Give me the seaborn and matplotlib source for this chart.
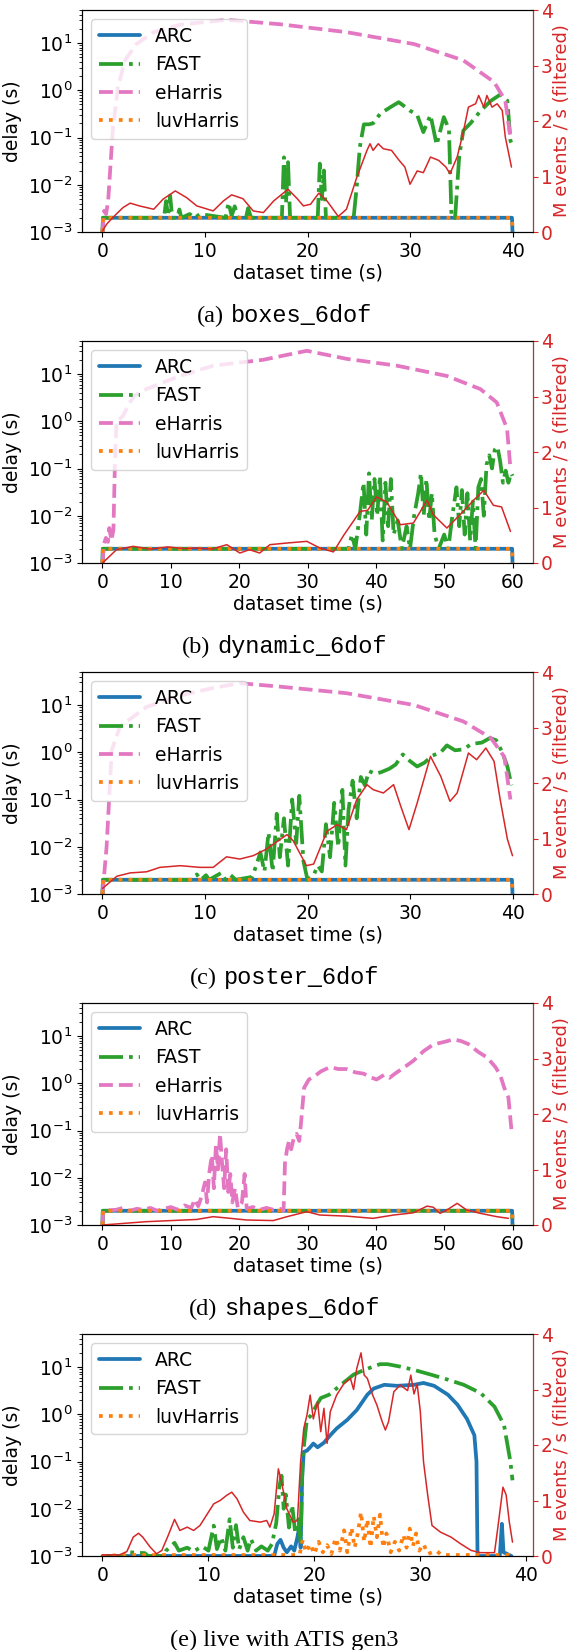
import matplotlib
matplotlib.use('Agg')
import matplotlib.pyplot as plt
import seaborn as sns

# ---------------- dados ----------------
# (a) boxes_6dof
a_base_t = [0, 0.05, 39.95, 40]
a_base = [1e-3, 2e-3, 2e-3, 1e-3]
a_fast_t = [0, 0.05, 6.0, 6.2, 6.4, 6.6, 6.8, 7.3, 7.5, 7.7, 8.5, 9.0, 9.5, 12.0, 12.3, 12.6, 12.9, 13.2,
            14.0, 14.2, 14.5, 17.5, 17.7, 17.9, 18.1, 18.3, 18.5, 21.0, 21.2, 21.4, 21.6, 21.8, 24.5, 24.8,
            25.1, 25.5, 26.0, 26.4, 27.1, 28.1, 28.9, 29.5, 30.0, 30.7, 31.3, 32.0, 32.6, 33.3, 33.8, 34.05,
            34.4, 34.8, 35.2, 35.9, 36.9, 37.9, 38.8, 39.5, 39.8, 40.0]
a_fast = [1e-3, 2e-3, 2e-3, 4.5e-3, 2.2e-3, 5.9e-3, 2e-3, 2e-3, 3e-3, 2e-3, 2.4e-3, 2e-3, 2.4e-3, 2e-3, 4.2e-3,
          2.2e-3, 3.5e-3, 2e-3, 2e-3, 3.2e-3, 2e-3, 2e-3, 0.038, 0.004, 0.03, 2e-3, 2e-3, 2e-3, 0.028, 0.005,
          0.02, 2e-3, 2e-3, 9e-3, 0.062, 0.19, 0.19, 0.2, 0.32, 0.44, 0.56, 0.45, 0.37, 0.3, 0.13, 0.3, 0.07,
          0.27, 0.15, 2e-3, 2e-3, 0.04, 0.14, 0.2, 0.37, 0.6, 0.81, 0.6, 0.085, 0.07]
a_eh_t = [0, 0.15, 0.35, 0.55, 1.0, 1.5, 2.2, 3.3, 5.0, 7.6, 12.1, 17.3, 23.8, 30.4, 35.2, 38.2, 39.3, 39.8]
a_eh = [1e-3, 2.8e-3, 2.4e-3, 4.5e-3, 0.14, 1.15, 4.3, 9.5, 17, 24.5, 31, 25, 17, 9.5, 4.3, 1.5, 0.6, 0.1]
a_rate_t = [0, 0.4, 1.0, 2.0, 2.7, 3.6, 5.0, 5.9, 7.1, 8.2, 9.2, 10.8, 11.8, 12.6, 13.7, 14.7, 15.7, 16.7,
            18.1, 19.0, 19.6, 20.3, 21.1, 21.9, 23.0, 23.8, 24.8, 25.8, 26.1, 26.4, 26.9, 27.4, 28.2, 28.9,
            29.5, 30.0, 30.7, 31.3, 32.0, 32.8, 33.5, 33.9, 34.6, 35.2, 35.7, 36.4, 36.7, 37.2, 37.5, 38.0,
            38.5, 39.0, 39.3, 39.9]
a_rate = [0.02, 0.14, 0.26, 0.44, 0.52, 0.47, 0.41, 0.59, 0.74, 0.62, 0.47, 0.38, 0.56, 0.67, 0.6, 0.38, 0.35,
          0.56, 0.77, 0.6, 0.47, 0.5, 0.70, 0.56, 0.28, 0.41, 0.98, 1.47, 1.59, 1.47, 1.59, 1.5, 1.47, 1.3,
          1.17, 0.86, 1.1, 1.07, 1.35, 1.29, 1.17, 1.05, 1.35, 1.80, 2.25, 2.31, 2.46, 2.25, 2.46, 2.25, 2.31,
          2.19, 1.71, 1.17]

# (b) dynamic_6dof
b_base_t = [0, 0.05, 59.95, 60]
b_base = [1e-3, 2e-3, 2e-3, 1e-3]
b_fast_t = [0, 0.05, 36.0, 36.5, 37.0, 37.7, 38.2, 38.6, 39.0, 39.4, 39.8, 40.2, 40.6, 41.0, 41.4, 41.8, 42.2,
            42.6, 43.2, 43.8, 44.5, 45.0, 45.6, 46.2, 46.6, 47.0, 47.4, 47.8, 48.2, 48.6, 49.2, 50.0, 50.6,
            51.2, 51.8, 52.2, 52.6, 53.0, 53.4, 53.8, 54.2, 54.6, 55.0, 55.4, 55.8, 56.2, 56.6, 57.0, 57.4,
            57.8, 58.2, 58.6, 59.0, 59.4, 59.8, 60.0]
b_fast = [1e-3, 2e-3, 2e-3, 4e-3, 2e-3, 0.012, 0.05, 0.004, 0.079, 0.008, 0.06, 0.01, 0.07, 0.003, 0.05, 0.006,
          0.06, 0.004, 0.008, 0.002, 0.006, 0.002, 0.01, 0.03, 0.08, 0.01, 0.06, 0.008, 0.03, 0.004, 0.002,
          0.004, 0.002, 0.01, 0.04, 0.006, 0.035, 0.004, 0.03, 0.003, 0.02, 0.002, 0.04, 0.06, 0.01, 0.12,
          0.19, 0.1, 0.25, 0.29, 0.14, 0.05, 0.09, 0.05, 0.08, 0.07]
b_eh_t = [0, 0.2, 0.5, 0.8, 1.0, 1.3, 1.6, 1.8, 2.05, 3.0, 4.0, 4.7, 6.4, 11.3, 16.2, 23.5, 29.9, 35.7, 43.1,
          50.4, 55.3, 57.7, 59.2, 59.7]
b_eh = [1e-3, 2.5e-3, 3.4e-3, 2.8e-3, 5.5e-3, 3e-3, 5e-3, 0.1, 0.95, 1.3, 2.5, 3.5, 4.8, 9.1, 15, 20, 31, 21,
        15, 9.1, 4.8, 2.5, 0.7, 0.1]
b_rate_t = [0, 2.05, 4.5, 7.0, 9.5, 12.0, 13.8, 16.0, 18.2, 20.1, 21.5, 23.0, 24.5, 27.0, 29.9, 31.8, 33.8,
            35.3, 37.7, 38.8, 40.1, 41.6, 43.6, 45.5, 47.5, 48.4, 50.4, 52.8, 54.3, 55.8, 57.2, 58.4, 59.7]
b_rate = [0.0, 0.24, 0.30, 0.25, 0.29, 0.26, 0.27, 0.25, 0.33, 0.18, 0.24, 0.18, 0.33, 0.36, 0.39, 0.27, 0.2,
          0.5, 0.93, 0.95, 1.19, 1.1, 0.69, 0.72, 1.13, 0.87, 0.63, 0.93, 1.13, 1.31, 1.04, 1.01, 0.57]

# (c) poster_6dof
c_base_t = [0, 0.05, 39.95, 40]
c_base = [1e-3, 2e-3, 2e-3, 1e-3]
c_fast_t = [0, 0.05, 8.8, 9.2, 9.6, 10.1, 10.4, 11.6, 12.0, 12.5, 13.0, 14.6, 15.0, 15.4, 15.8, 16.2, 16.6,
            17.0, 17.3, 17.7, 18.1, 18.5, 18.9, 19.2, 19.6, 20.0, 20.6, 21.0, 21.4, 21.8, 22.2, 22.6, 23.0,
            23.4, 23.7, 24.0, 24.4, 24.8, 25.2, 25.6, 26.0, 26.6, 27.2, 28.0, 28.6, 29.3, 30.0, 30.7, 31.4,
            32.2, 33.0, 33.6, 34.4, 35.2, 36.0, 37.0, 37.8, 38.4, 39.0, 39.5, 39.9]
c_fast = [1e-3, 2e-3, 2e-3, 2.6e-3, 2e-3, 2.5e-3, 2e-3, 2.8e-3, 2e-3, 2.5e-3, 2e-3, 2.3e-3, 4e-3, 7.6e-3, 3e-3,
          0.02, 0.003, 0.05, 0.006, 0.04, 0.004, 0.1, 0.012, 0.12, 0.005, 0.002, 0.0025, 0.004, 0.003, 0.03,
          0.006, 0.085, 0.01, 0.16, 0.004, 0.06, 0.25, 0.04, 0.3, 0.2, 0.4, 0.35, 0.38, 0.45, 0.55, 0.9, 0.65,
          0.5, 0.6, 0.85, 1.0, 1.4, 1.1, 1.15, 1.5, 1.6, 2.0, 1.8, 1.0, 0.5, 0.2]
c_eh_t = [0, 0.4, 0.9, 1.7, 4.3, 7.6, 10.8, 13.4, 17.3, 23.8, 30.4, 35.2, 37.9, 39.2, 39.8]
c_eh = [1e-3, 0.01, 1.1, 3.5, 9.1, 16, 23, 29, 24.5, 17.8, 10, 4.5, 2.0, 0.8, 0.1]
c_rate_t = [0, 1.4, 2.7, 4.3, 5.6, 7.6, 9.5, 10.8, 12.1, 13.4, 14.7, 16.0, 18.0, 18.6, 19.9, 20.6, 21.9, 22.9,
            23.8, 24.8, 25.8, 26.4, 27.4, 28.4, 29.1, 29.9, 30.7, 32.0, 33.0, 33.9, 34.6, 35.7, 36.5, 37.4,
            38.2, 38.8, 39.5, 40.0]
c_rate = [0.1, 0.32, 0.38, 0.40, 0.48, 0.51, 0.48, 0.48, 0.67, 0.63, 0.69, 0.81, 1.07, 0.96, 0.51, 0.54, 1.13,
          1.25, 1.16, 1.7, 1.97, 1.88, 1.82, 1.97, 1.58, 1.16, 1.64, 2.48, 2.12, 1.67, 1.82, 2.54, 2.42, 2.63,
          2.39, 1.7, 0.99, 0.69]

# (d) shapes_6dof
d_base_t = [0, 0.05, 59.95, 60]
d_base = [1e-3, 2e-3, 2e-3, 1e-3]
d_eh_t = [0, 0.1, 2, 3, 4, 5, 6, 7, 8, 9, 10, 11, 12, 13, 13.5, 14, 14.5, 15, 15.3, 15.6, 16, 16.3, 16.6,
          16.9, 17.2, 17.5, 17.8, 18.1, 18.4, 18.7, 19, 19.4, 19.8, 20.4, 20.8, 21.1, 22, 23, 24, 25, 26,
          26.5, 26.7, 27, 27.3, 27.6, 28, 28.4, 28.8, 29, 29.5, 30.2, 31, 32, 33.3, 34.5, 35.7, 37, 38.2,
          39.2, 40.1, 41.2, 42, 42.8, 44, 45.5, 47, 48.4, 50, 51.4, 52.5, 53.5, 55, 56.3, 57.5, 58.2, 58.8,
          59.4, 59.9]
d_eh = [1e-3, 2e-3, 2.1e-3, 2.3e-3, 2e-3, 2.2e-3, 2.1e-3, 2.3e-3, 2e-3, 2.2e-3, 2.4e-3, 2.1e-3, 2.6e-3, 2.3e-3,
        3.5e-3, 2.5e-3, 4e-3, 8e-3, 3e-3, 0.012, 0.03, 0.006, 0.05, 0.015, 0.085, 0.02, 0.006, 0.04, 0.005,
        0.012, 0.003, 0.006, 2.3e-3, 3e-3, 0.012, 2.2e-3, 2.4e-3, 2.1e-3, 2.3e-3, 2.1e-3, 2.2e-3, 2e-3, 0.02,
        0.04, 0.06, 0.04, 0.07, 0.085, 0.06, 0.12, 0.8, 1.2, 1.4, 1.8, 2.2, 2.0, 2.0, 1.7, 1.6, 1.35, 1.2,
        1.5, 1.3, 1.6, 2.1, 3.0, 4.8, 6.6, 7.5, 8.5, 7.8, 6.8, 4.6, 3.5, 2.2, 1.5, 0.8, 0.5, 0.085]
d_rate_t = [0, 6.4, 13.8, 16.2, 18.7, 21.1, 25.0, 27.0, 29.9, 31.8, 35.7, 39.6, 42.6, 45.5, 47.5, 48.4, 49.4,
            50.4, 51.9, 53.3, 55.3, 57.7, 59.4]
d_rate = [0.0, 0.06, 0.1, 0.15, 0.12, 0.09, 0.08, 0.15, 0.24, 0.18, 0.16, 0.12, 0.18, 0.22, 0.34, 0.32, 0.21,
          0.27, 0.39, 0.27, 0.21, 0.15, 0.12]

# (e) live with ATIS gen3
e_arc_t = [0, 16.2, 16.5, 16.8, 17.1, 17.4, 17.8, 18.1, 18.4, 18.6, 18.7, 18.85, 19.0, 19.3, 19.6, 19.9, 20.3,
           20.9, 21.5, 22.1, 23.1, 24.0, 25.0, 25.6, 26.6, 27.8, 29.4, 30.3, 31.3, 32.6, 33.5, 34.4, 35.1,
           35.3, 35.4, 37.5, 37.7, 37.85, 38.6]
e_arc = [1e-3, 1e-3, 1.8e-3, 2.2e-3, 1.5e-3, 1.2e-3, 1.6e-3, 1.3e-3, 2.5e-3, 4.5e-3, 1.5e-3, 0.05, 0.16, 0.17,
         0.2, 0.24, 0.2, 0.25, 0.36, 0.5, 0.76, 1.23, 2.6, 3.5, 4.2, 4.0, 4.2, 4.6, 4.0, 2.6, 1.6, 0.8, 0.36,
         0.1, 1e-3, 1e-3, 4.8e-3, 1.2e-3, 1e-3]
e_fast_t = [0, 2.3, 2.5, 4.0, 4.3, 5.8, 6.0, 6.8, 7.2, 8.0, 8.6, 9.4, 10.0, 10.5, 10.8, 11.2, 11.6, 12.0, 12.3,
            12.6, 12.9, 13.3, 13.7, 14.0, 14.5, 15.0, 15.6, 16.0, 16.4, 16.7, 16.9, 17.1, 17.3, 17.6, 17.9,
            18.2, 18.5, 18.7, 18.9, 19.3, 19.6, 20.6, 21.4, 22.5, 23.7, 24.7, 26.2, 26.9, 28.1, 29.4, 31.0,
            32.6, 34.1, 35.7, 37.0, 37.9, 38.5, 38.7]
e_fast = [1e-3, 1e-3, 1.2e-3, 1.15e-3, 1e-3, 1e-3, 1.3e-3, 1.9e-3, 1.3e-3, 1.5e-3, 1.25e-3, 1.6e-3, 1.3e-3,
          4.4e-3, 1.4e-3, 2.5e-3, 1.3e-3, 6e-3, 1.5e-3, 4.5e-3, 1.4e-3, 2.5e-3, 1.3e-3, 2.3e-3, 1.3e-3, 1.6e-3,
          1.3e-3, 1.8e-3, 5e-3, 0.03, 0.05, 0.01, 0.02, 0.004, 0.012, 0.003, 0.006, 0.002, 0.13, 0.8, 0.9, 2.2,
          2.6, 4.2, 6.9, 8.7, 11.5, 11.5, 10.2, 8.7, 6.9, 5.4, 4.2, 2.8, 1.45, 0.59, 0.1, 0.04]
e_luv_t = [0, 2.0, 18.6, 18.9, 19.2, 19.6, 20.0, 20.4, 20.8, 21.2, 21.6, 22.0, 22.4, 22.8, 23.1, 23.5, 23.8,
           24.1, 24.4, 24.7, 25.0, 25.3, 25.6, 25.9, 26.2, 26.5, 26.8, 27.2, 27.6, 28.0, 28.4, 28.7, 29.0,
           29.3, 29.6, 29.9, 30.3, 30.7, 31.5, 32.0, 38.4, 38.5]
e_luv = [1e-3, 1.05e-3, 1.05e-3, 2.2e-3, 1.2e-3, 1.8e-3, 1.1e-3, 2e-3, 1.2e-3, 1.7e-3, 1.1e-3, 2.4e-3, 1.3e-3,
         3.5e-3, 1.2e-3, 4e-3, 1.5e-3, 3e-3, 8.5e-3, 2e-3, 6e-3, 1.5e-3, 7e-3, 2.5e-3, 7.5e-3, 1.5e-3, 3e-3,
         1.2e-3, 2e-3, 1.3e-3, 2.8e-3, 1.5e-3, 3.8e-3, 1.6e-3, 3e-3, 1.3e-3, 1.8e-3, 1.1e-3, 1.3e-3, 1.05e-3,
         1.05e-3, 1e-3]
e_rate_t = [0, 1.6, 2.3, 2.9, 3.4, 3.8, 4.5, 5.1, 5.6, 6.2, 6.8, 7.3, 8.0, 8.6, 9.2, 9.8, 10.5, 11.1, 11.7,
            12.2, 12.7, 13.3, 13.9, 14.9, 15.5, 15.8, 16.2, 16.6, 16.9, 17.4, 18.0, 18.4, 18.7, 19.0, 19.3,
            19.6, 19.9, 20.3, 20.6, 20.9, 21.2, 21.5, 22.1, 22.8, 23.4, 23.7, 24.0, 24.4, 24.7, 25.0, 25.5,
            25.9, 26.4, 26.7, 27.0, 27.5, 28.1, 28.8, 29.1, 29.4, 29.7, 30.0, 30.3, 30.7, 31.1, 31.9, 32.9,
            33.8, 34.8, 35.7, 37.0, 37.3, 37.8, 38.1, 38.4, 38.7]
e_rate = [0.02, 0.02, 0.08, 0.34, 0.41, 0.34, 0.16, 0.04, 0.1, 0.37, 0.66, 0.46, 0.52, 0.46, 0.55, 0.73, 0.94,
          1.0, 1.09, 1.15, 1.03, 0.79, 0.64, 0.61, 0.64, 0.52, 0.76, 1.57, 1.33, 0.85, 0.61, 0.64, 1.70, 2.30,
          2.54, 2.90, 2.47, 2.78, 2.24, 2.66, 2.03, 2.6, 2.9, 3.11, 3.2, 3.0, 3.38, 3.66, 3.26, 3.2, 2.9, 2.72,
          2.42, 2.27, 2.42, 2.96, 3.08, 2.98, 3.26, 2.92, 3.1, 2.6, 1.70, 1.09, 0.55, 0.43, 0.34, 0.22, 0.1,
          0.06, 0.06, 0.49, 1.24, 1.1, 0.61, 0.25]

# ---------------- estilo ----------------
sns.set_style("ticks", {"axes.edgecolor": "black", "xtick.color": "black", "ytick.color": "black",
                        "text.color": "black", "axes.labelcolor": "black"})
plt.rcParams['font.family'] = ['DejaVu Sans']
plt.rcParams['font.size'] = 13.5
plt.rcParams['axes.labelsize'] = 13.5
plt.rcParams['xtick.labelsize'] = 13.5
plt.rcParams['ytick.labelsize'] = 13.5
plt.rcParams['legend.fontsize'] = 13.5

LW = 2.7
VERMELHO = 'tab:red'

# cada painel: lista de séries (t, valores, nome, cor, estilo), taxa de eventos, legenda
paineis = [
    ([(a_base_t, a_base, 'ARC', 'tab:blue', '-'), (a_fast_t, a_fast, 'FAST', 'tab:green', '-.'),
      (a_eh_t, a_eh, 'eHarris', 'tab:pink', '--'), (a_base_t, a_base, 'luvHarris', 'tab:orange', ':')],
     a_rate_t, a_rate, [('(a)', 'serif'), ('boxes_6dof', 'mono')]),
    ([(b_base_t, b_base, 'ARC', 'tab:blue', '-'), (b_fast_t, b_fast, 'FAST', 'tab:green', '-.'),
      (b_eh_t, b_eh, 'eHarris', 'tab:pink', '--'), (b_base_t, b_base, 'luvHarris', 'tab:orange', ':')],
     b_rate_t, b_rate, [('(b)', 'serif'), ('dynamic_6dof', 'mono')]),
    ([(c_base_t, c_base, 'ARC', 'tab:blue', '-'), (c_fast_t, c_fast, 'FAST', 'tab:green', '-.'),
      (c_eh_t, c_eh, 'eHarris', 'tab:pink', '--'), (c_base_t, c_base, 'luvHarris', 'tab:orange', ':')],
     c_rate_t, c_rate, [('(c)', 'serif'), ('poster_6dof', 'mono')]),
    ([(d_base_t, d_base, 'ARC', 'tab:blue', '-'), (d_base_t, d_base, 'FAST', 'tab:green', '-.'),
      (d_eh_t, d_eh, 'eHarris', 'tab:pink', '--'), (d_base_t, d_base, 'luvHarris', 'tab:orange', ':')],
     d_rate_t, d_rate, [('(d)', 'serif'), ('shapes_6dof', 'mono')]),
    ([(e_arc_t, e_arc, 'ARC', 'tab:blue', '-'), (e_fast_t, e_fast, 'FAST', 'tab:green', '-.'),
      (e_luv_t, e_luv, 'luvHarris', 'tab:orange', ':')],
     e_rate_t, e_rate, [('(e) live with ATIS gen3', 'serif')]),
]

fig = plt.figure(figsize=(5.69, 16.5), dpi=100)
W, H = 569.0, 1650.0
PERIODO = 331

legendas = []
for k, (series, rate_t, rate, caption) in enumerate(paineis):
    top = 10 + PERIODO * k
    ax = fig.add_axes([82 / W, 1 - (top + 222) / H, 451 / W, 222 / H])
    for t, v, nome, cor, ls in series:
        sns.lineplot(x=t, y=v, ax=ax, color=cor, linestyle=ls, lw=LW, label=nome,
                     estimator=None, sort=False)
    ax.set_yscale('log')
    ax.set_ylim(1e-3, 50)
    ax.set_xlabel('dataset time (s)', labelpad=2)
    ax.set_ylabel('delay (s)')
    ax.legend(loc='upper left', handlelength=2.2)

    ax2 = ax.twinx()
    sns.lineplot(x=rate_t, y=rate, ax=ax2, color=VERMELHO, lw=1.1, estimator=None, sort=False)
    ax2.set_ylim(0, 4)
    ax2.set_yticks([0, 1, 2, 3, 4])
    ax2.set_ylabel('M events / s (filtered)', color=VERMELHO, labelpad=0, fontsize=13)
    ax2.tick_params(axis='y', colors=VERMELHO, pad=2)
    ax2.spines['right'].set_color(VERMELHO)

    legendas.append((322 + PERIODO * k, caption))

# legendas (captions) centradas, fonte serif + máquina de escrever
fig.canvas.draw()
renderer = fig.canvas.get_renderer()
for y_px, partes in legendas:
    textos = []
    for s, tipo in partes:
        if tipo == 'serif':
            textos.append(fig.text(0, 1 - y_px / H, s, family='Liberation Serif', fontsize=17.5, va='baseline'))
        else:
            textos.append(fig.text(0, 1 - y_px / H, s, family='Liberation Mono', fontsize=17, va='baseline'))
    larguras = [t.get_window_extent(renderer).width for t in textos]
    espaco = 7
    total = sum(larguras) + espaco * (len(textos) - 1)
    x = (W - total) / 2
    for t, w in zip(textos, larguras):
        t.set_x(x / W)
        x += w + espaco

fig.savefig('out.png', dpi=100)
